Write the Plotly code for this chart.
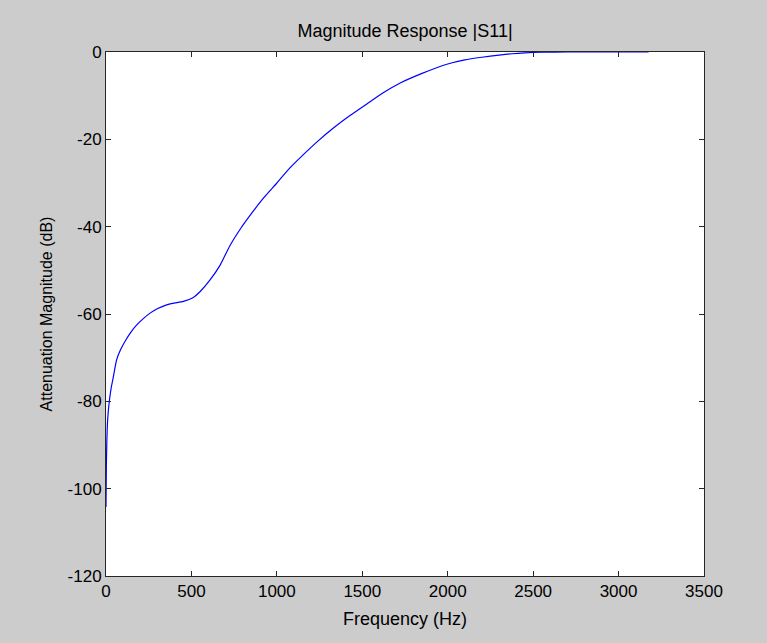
import plotly.graph_objects as go

freq_hz = [0, 2, 5, 10, 19, 30, 43, 62, 85, 111, 145, 180, 220, 258, 300, 355, 400, 453,
           511, 550, 609, 668, 726, 790, 853, 925, 1000, 1075, 1155, 1240, 1331, 1430,
           1527, 1620, 1722, 1850, 1995, 2100, 2200, 2300, 2376, 2450, 2551, 2700, 2900, 3176]
s11_db = [-104.2, -95, -89, -84, -80.1, -77, -74.4, -70.5, -68.2, -66.3, -64.2, -62.5,
          -61.0, -59.8, -58.8, -57.9, -57.5, -57.1, -56.2, -54.9, -52.2, -48.8, -44.3,
          -40.3, -36.9, -33.3, -30.0, -26.6, -23.5, -20.4, -17.4, -14.5, -11.9, -9.4,
          -7.1, -4.9, -2.8, -1.8, -1.2, -0.7, -0.4, -0.2, -0.05, 0, 0, 0]

x_ticks = [0, 500, 1000, 1500, 2000, 2500, 3000, 3500]
y_ticks = [-120, -100, -80, -60, -40, -20, 0]

font = "Liberation Sans, Arial, sans-serif"

fig = go.Figure()
fig.add_trace(go.Scatter(x=freq_hz, y=s11_db, mode="lines",
                         line=dict(color="#0000ff", width=1.2, shape="spline", smoothing=0.5),
                         showlegend=False))

axis_common = dict(showgrid=False, zeroline=False, showline=True, linecolor="#262626",
                   linewidth=1, mirror="allticks", ticks="inside", ticklen=5,
                   tickcolor="#262626", tickfont=dict(family=font, size=17, color="#000"))

fig.update_layout(
    width=767, height=643,
    paper_bgcolor="#cccccc", plot_bgcolor="#ffffff",
    margin=dict(l=106, r=63, t=52, b=67),
    title=dict(text="Magnitude Response |S11|", x=0.5, xref="paper", y=0.953,
               yanchor="middle", font=dict(family=font, size=18, color="#000")),
    xaxis=dict(range=[0, 3500], tickvals=x_ticks, ticktext=[str(v) for v in x_ticks],
               title=dict(text="Frequency (Hz)", font=dict(family=font, size=18, color="#000"),
                          standoff=11),
               **axis_common),
    yaxis=dict(range=[-120, 0], tickvals=y_ticks, ticktext=[str(v) for v in y_ticks],
               title=dict(text="Attenuation Magnitude (dB)", font=dict(family=font, size=16, color="#000"),
                          standoff=10),
               **axis_common),
)

fig.write_html("out.html")
